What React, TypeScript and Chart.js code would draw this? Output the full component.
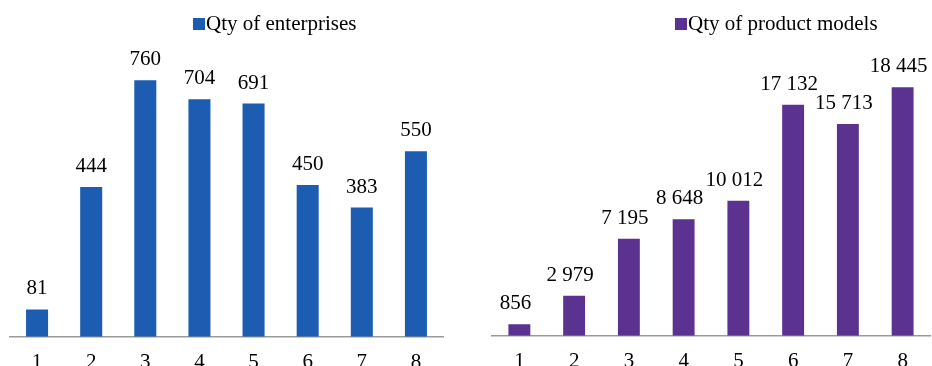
import React, { useEffect, useRef } from "react";
import { Chart, registerables } from "chart.js";
Chart.register(...registerables);

const categories = ["1", "2", "3", "4", "5", "6", "7", "8"];
const enterprises = [81, 444, 760, 704, 691, 450, 383, 550];
const productModels = [856, 2979, 7195, 8648, 10012, 17132, 15713, 18445];
const enterprisesLabel = "Qty of enterprises";
const productModelsLabel = "Qty of product models";

const FONT = "'Liberation Serif', 'Times New Roman', serif";

function fmt(v: number) {
  return String(v).replace(/\B(?=(\d{3})+(?!\d))/g, " ");
}

const labelsPlugin = {
  id: "barLabels",
  afterDatasetsDraw(chart: any, _args: any, opts: any) {
    const ctx = chart.ctx;
    const meta = chart.getDatasetMeta(0);
    const data = chart.data.datasets[0].data;
    ctx.save();
    ctx.font = `21px ${FONT}`;
    ctx.fillStyle = "#000";
    ctx.textAlign = "center";
    ctx.textBaseline = "alphabetic";
    meta.data.forEach((el: any, i: number) => {
      ctx.fillText(fmt(data[i]), el.x + (opts.dx || 0), el.y - 15);
    });
    ctx.restore();
  },
};

const legendPlugin = {
  id: "boxLegend",
  afterDraw(chart: any, _args: any, opts: any) {
    const ctx = chart.ctx;
    const ds = chart.data.datasets[0];
    ctx.save();
    ctx.fillStyle = ds.backgroundColor;
    ctx.fillRect(opts.x, opts.y, 12, 12);
    ctx.font = `21px ${FONT}`;
    ctx.fillStyle = "#000";
    ctx.textAlign = "left";
    ctx.textBaseline = "alphabetic";
    ctx.fillText(ds.label, opts.x + 13, opts.y + 12);
    ctx.restore();
  },
};

type PanelProps = {
  values: number[];
  label: string;
  color: string;
  yMax: number;
  padding: { left: number; right: number; top: number; bottom: number };
  legendX: number;
  labelDx: number;
  catPct: number;
};

function Panel({ values, label, color, yMax, padding, legendX, labelDx, catPct }: PanelProps) {
  const ref = useRef<HTMLCanvasElement>(null);
  useEffect(() => {
    if (!ref.current) return;
    const chart = new Chart(ref.current, {
      type: "bar",
      data: {
        labels: categories,
        datasets: [
          {
            label,
            data: values,
            backgroundColor: color,
            barPercentage: 1,
            categoryPercentage: catPct,
          },
        ],
      },
      options: {
        animation: false,
        responsive: false,
        maintainAspectRatio: false,
        layout: { padding },
        plugins: {
          legend: { display: false },
          tooltip: { enabled: false },
          barLabels: { dx: labelDx },
          boxLegend: { x: legendX, y: 18 },
        } as any,
        scales: {
          x: {
            grid: { display: false, drawTicks: false },
            border: { display: true, color: "#9a9a9a", width: 1.5 },
            ticks: {
              color: "#000",
              padding: 13,
              font: { family: FONT, size: 21 },
              maxRotation: 0,
            },
          },
          y: {
            display: false,
            min: 0,
            max: yMax,
          },
        },
      },
      plugins: [labelsPlugin, legendPlugin],
    });
    return () => chart.destroy();
  }, []);
  return <canvas ref={ref} width={466} height={390} style={{ display: "block", width: 466, height: 390 }} />;
}

export default function App() {
  return (
    <div style={{ position: "absolute", left: 0, top: 0, width: 932, height: 366, overflow: "hidden", background: "#fff" }}>
      <div style={{ position: "absolute", left: 0, top: 0 }}>
        <Panel
          values={enterprises}
          label={enterprisesLabel}
          color="#1C5DB1"
          yMax={900}
          padding={{ left: 10, right: 23, top: 33, bottom: 2 }}
          legendX={193}
          labelDx={0}
          catPct={0.407}
        />
      </div>
      <div style={{ position: "absolute", left: 466, top: 0 }}>
        <Panel
          values={productModels}
          label={productModelsLabel}
          color="#5B3290"
          yMax={22460}
          padding={{ left: 26, right: 2, top: 33, bottom: 3 }}
          legendX={209}
          labelDx={-4}
          catPct={0.4}
        />
      </div>
    </div>
  );
}
